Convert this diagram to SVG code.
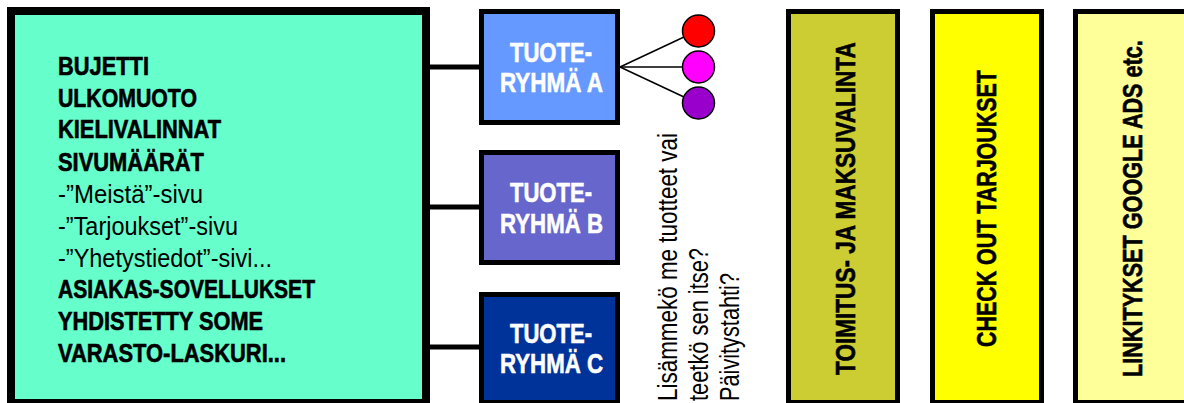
<svg xmlns="http://www.w3.org/2000/svg" width="1184" height="403" viewBox="0 0 1184 403">
<style>
.box{stroke:#000;}
.b{font-family:"Liberation Sans",Arial,sans-serif;font-weight:bold;stroke-width:0.6;}
.r{font-family:"Liberation Sans",Arial,sans-serif;}
.main{font-size:25px;fill:#000;}
.main.b{stroke:#000;}
.grp{font-size:28px;fill:#fff;stroke:#fff;text-anchor:middle;}
.col{font-size:28px;fill:#000;stroke:#000;}
.q{font-size:27px;fill:#000;}
.conn{stroke:#000;stroke-width:5;fill:none;}
.thin{stroke:#000;stroke-width:1.5;fill:none;}
</style>
<rect width="1184" height="403" fill="#fff"/>
<g id="connectors">
<line class="conn" x1="428" y1="67" x2="482" y2="67"/>
<line class="conn" x1="428" y1="207" x2="482" y2="207"/>
<line class="conn" x1="428" y1="347" x2="482" y2="347"/>
<line class="thin" x1="620" y1="67" x2="684" y2="37"/>
<line class="thin" x1="620" y1="67" x2="682" y2="67"/>
<line class="thin" x1="620" y1="67" x2="684" y2="97"/>
</g>
<g id="main">
<rect class="box" x="11" y="11" width="415" height="392" fill="#66FFCC" stroke-width="8"/>
<text class="b main" x="58" y="75" textLength="91" lengthAdjust="spacingAndGlyphs">BUJETTI</text>
<text class="b main" x="58" y="107" textLength="139" lengthAdjust="spacingAndGlyphs">ULKOMUOTO</text>
<text class="b main" x="58" y="138" textLength="163" lengthAdjust="spacingAndGlyphs">KIELIVALINNAT</text>
<text class="b main" x="58" y="171" textLength="146" lengthAdjust="spacingAndGlyphs">SIVUMÄÄRÄT</text>
<text class="r main" x="58" y="203" textLength="145" lengthAdjust="spacingAndGlyphs">-”Meistä”-sivu</text>
<text class="r main" x="58" y="235" textLength="180" lengthAdjust="spacingAndGlyphs">-”Tarjoukset”-sivu</text>
<text class="r main" x="58" y="267" textLength="214" lengthAdjust="spacingAndGlyphs">-”Yhetystiedot”-sivi...</text>
<text class="b main" x="58" y="298" textLength="257" lengthAdjust="spacingAndGlyphs">ASIAKAS-SOVELLUKSET</text>
<text class="b main" x="58" y="330" textLength="205" lengthAdjust="spacingAndGlyphs">YHDISTETTY SOME</text>
<text class="b main" x="58" y="362" textLength="228" lengthAdjust="spacingAndGlyphs">VARASTO-LASKURI...</text>
</g>
<g id="groupA">
<rect class="box" x="481.5" y="11.5" width="136" height="111" fill="#6699FF" stroke-width="5"/>
<text class="b grp" x="551" y="62" textLength="82" lengthAdjust="spacingAndGlyphs">TUOTE-</text>
<text class="b grp" x="551.5" y="92" textLength="103" lengthAdjust="spacingAndGlyphs">RYHMÄ A</text>
</g>
<g id="groupB">
<rect class="box" x="481.5" y="152.5" width="136" height="110" fill="#6666CC" stroke-width="5"/>
<text class="b grp" x="551" y="202" textLength="82" lengthAdjust="spacingAndGlyphs">TUOTE-</text>
<text class="b grp" x="551.5" y="233" textLength="103" lengthAdjust="spacingAndGlyphs">RYHMÄ B</text>
</g>
<g id="groupC">
<rect class="box" x="481.5" y="294.5" width="136" height="108" fill="#003399" stroke-width="5"/>
<text class="b grp" x="551" y="343" textLength="82" lengthAdjust="spacingAndGlyphs">TUOTE-</text>
<text class="b grp" x="551.5" y="373" textLength="103" lengthAdjust="spacingAndGlyphs">RYHMÄ C</text>
</g>
<g id="products">
<circle cx="698.5" cy="31" r="16" fill="#FF0000" stroke="#000" stroke-width="1.5"/>
<circle cx="698.5" cy="67" r="16" fill="#FF00FF" stroke="#000" stroke-width="1.5"/>
<circle cx="698.5" cy="103" r="16" fill="#9900CC" stroke="#000" stroke-width="1.5"/>
</g>
<g id="note">
<text class="r q" transform="translate(677,401) rotate(-90)" textLength="268" lengthAdjust="spacingAndGlyphs">Lisämmekö me tuotteet vai</text>
<text class="r q" transform="translate(708,401) rotate(-90)" textLength="153" lengthAdjust="spacingAndGlyphs">teetkö sen itse?</text>
<text class="r q" transform="translate(739,401) rotate(-90)" textLength="128" lengthAdjust="spacingAndGlyphs">Päivitystahti?</text>
</g>
<g id="delivery">
<rect class="box" x="788.5" y="11.5" width="109" height="391" fill="#CCCC33" stroke-width="5"/>
<text class="b col" transform="translate(855,375) rotate(-90) scale(0.8,1)" textLength="416" lengthAdjust="spacingAndGlyphs">TOIMITUS- JA MAKSUVALINTA</text>
</g>
<g id="checkout">
<rect class="box" x="932.5" y="11.5" width="109" height="391" fill="#FFFF00" stroke-width="5"/>
<text class="b col" transform="translate(996,347) rotate(-90) scale(0.8,1)" textLength="346" lengthAdjust="spacingAndGlyphs">CHECK OUT TARJOUKSET</text>
</g>
<g id="links">
<rect class="box" x="1075.5" y="11.5" width="130" height="391" fill="#FFFF99" stroke-width="5"/>
<text class="b col" transform="translate(1142,377) rotate(-90) scale(0.8,1)" textLength="421" lengthAdjust="spacingAndGlyphs">LINKITYKSET GOOGLE ADS etc.</text>
</g>
</svg>
